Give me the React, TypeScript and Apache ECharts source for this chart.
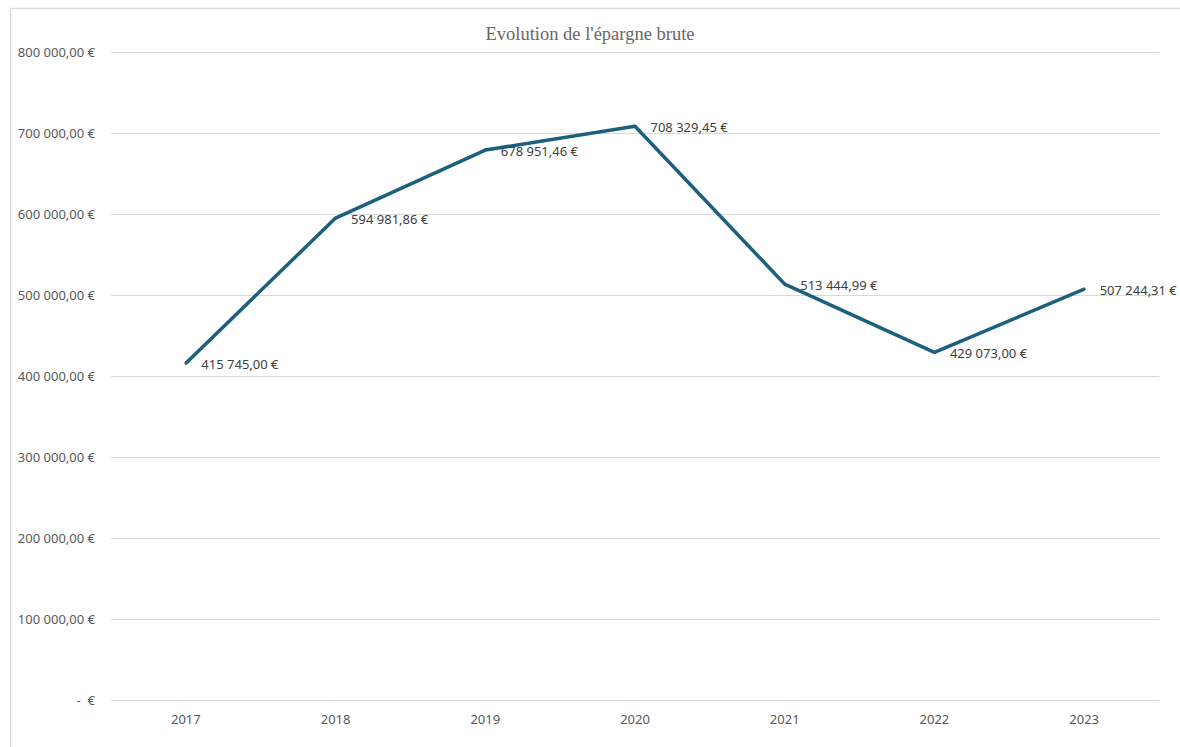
import React, { useEffect, useRef } from "react";
import * as echarts from "echarts";

const years = ["2017", "2018", "2019", "2020", "2021", "2022", "2023"];
const epargneBrute = [415745.0, 594981.86, 678951.46, 708329.45, 513444.99, 429073.0, 507244.31];
const titleText = "Evolution de l'épargne brute";

// French currency format with plain spaces as thousand separators
function formatEuro(v: number): string {
  if (v === 0) return "-  €";
  const [intPart, decPart] = v.toFixed(2).split(".");
  const grouped = intPart.replace(/\B(?=(\d{3})+(?!\d))/g, " ");
  return `${grouped},${decPart} €`;
}

export default function App() {
  const ref = useRef<HTMLDivElement>(null);

  useEffect(() => {
    if (!ref.current) return;
    const chart = echarts.init(ref.current, undefined, { renderer: "svg" });
    chart.setOption({
      animation: false,
      backgroundColor: "#ffffff",
      textStyle: { fontFamily: "Noto Sans" },
      title: {
        text: titleText,
        left: "center",
        top: 19,
        textStyle: {
          fontFamily: "Liberation Serif",
          fontWeight: "normal",
          fontSize: 18.5,
          color: "#666666",
        },
      },
      graphic: [
        {
          type: "line",
          shape: { x1: 10.5, y1: 8.5, x2: 1180, y2: 8.5 },
          style: { stroke: "#d9d9d9", lineWidth: 1.5 },
          silent: true,
        },
        {
          type: "line",
          shape: { x1: 10.5, y1: 8.5, x2: 10.5, y2: 747 },
          style: { stroke: "#d9d9d9", lineWidth: 1.5 },
          silent: true,
        },
      ],
      grid: { left: 111, right: 21, top: 52, bottom: 47 },
      xAxis: {
        type: "category",
        data: years,
        boundaryGap: true,
        axisLine: { show: false },
        axisTick: { show: false },
        axisLabel: { color: "#595959", fontSize: 13, margin: 12 },
      },
      yAxis: {
        type: "value",
        min: 0,
        max: 800000,
        interval: 100000,
        axisLine: { show: false },
        axisTick: { show: false },
        splitLine: { lineStyle: { color: "#d9d9d9", width: 1 } },
        axisLabel: {
          color: "#595959",
          fontSize: 13,
          margin: 16,
          formatter: (v: number) => formatEuro(v),
        },
      },
      series: [
        {
          type: "line",
          data: epargneBrute,
          showSymbol: true,
          symbol: "circle",
          symbolSize: 3,
          itemStyle: { color: "#1c6080" },
          lineStyle: { color: "#1c6080", width: 3.5 },
          label: {
            show: true,
            position: "right",
            distance: 14,
            offset: [0, 1],
            color: "#404040",
            fontSize: 13,
            formatter: (p: any) => formatEuro(p.value),
          },
        },
      ],
    });
    return () => chart.dispose();
  }, []);

  return (
    <div
      ref={ref}
      style={{ position: "fixed", left: 0, top: 0, width: 1180, height: 747 }}
    />
  );
}
